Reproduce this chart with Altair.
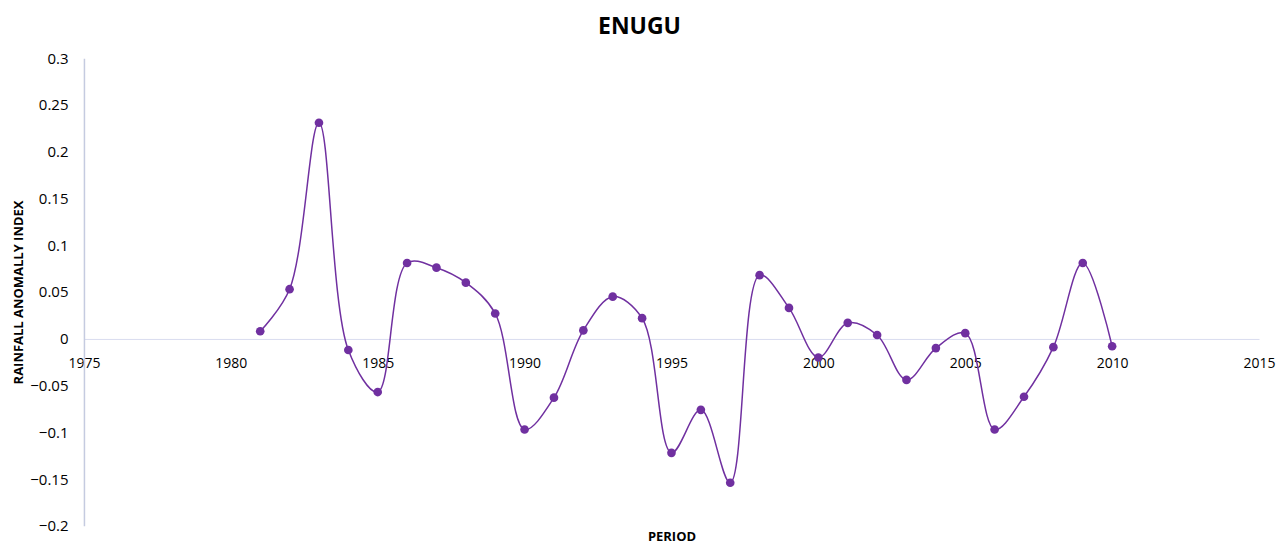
import altair as alt
import pandas as pd

years = list(range(1981, 2011))
rai = [0.008, 0.053, 0.231, -0.012, -0.057, 0.081, 0.076, 0.060, 0.027, -0.097,
       -0.063, 0.009, 0.045, 0.022, -0.122, -0.076, -0.154, 0.068, 0.033, -0.020,
       0.017, 0.004, -0.044, -0.010, 0.006, -0.097, -0.062, -0.009, 0.081, -0.008]

df = pd.DataFrame({"year": years, "rai": rai})

W, H = 1176, 468
FONT = "Open Sans"
PURPLE = "#7030A0"

x = alt.X("year:Q",
          scale=alt.Scale(domain=[1975, 2015], nice=False, zero=False),
          axis=alt.Axis(title="PERIOD", values=list(range(1975, 2016, 5)), format="d",
                        offset=-187, ticks=False, domainColor="#d9dcef", domainWidth=1,
                        labelPadding=18, labelFontSize=14, labelColor="#000000",
                        labelFont=FONT, labelFlush=False, grid=False,
                        titleFont=FONT, titleFontSize=13, titleFontWeight="bold",
                        titleColor="#000000", titleY=192))
y = alt.Y("rai:Q",
          scale=alt.Scale(domain=[-0.2, 0.3], nice=False),
          axis=alt.Axis(title="RAINFALL ANOMALLY INDEX", values=[-0.2, -0.15, -0.1, -0.05, 0, 0.05, 0.1, 0.15, 0.2, 0.25, 0.3],
                        format="~g", ticks=False, domainColor="#c5cbe0", domainWidth=1.5,
                        grid=False, labelPadding=16, labelFontSize=15, labelColor="#000000",
                        labelFont=FONT, titleFont=FONT, titleFontSize=13,
                        titleFontWeight="bold", titleColor="#000000", titlePadding=4))

line = alt.Chart(df).mark_line(color=PURPLE, strokeWidth=1.5, interpolate="catmull-rom").encode(x=x, y=y)
pts = alt.Chart(df).mark_point(color=PURPLE, filled=True, opacity=1, size=75).encode(x=x, y=y)

chart = (line + pts).properties(
    width=W, height=H,
    title=alt.TitleParams("ENUGU", fontSize=23, font=FONT, fontWeight="bold", color="#000000",
                          anchor="middle", offset=12, dx=-32),
    autosize=alt.AutoSizeParams(type="none"),
    padding={"left": 76, "top": 50, "right": 20, "bottom": 25},
).configure_view(stroke=None)

chart.save("out.html", embed_options={"renderer": "svg", "actions": False})
